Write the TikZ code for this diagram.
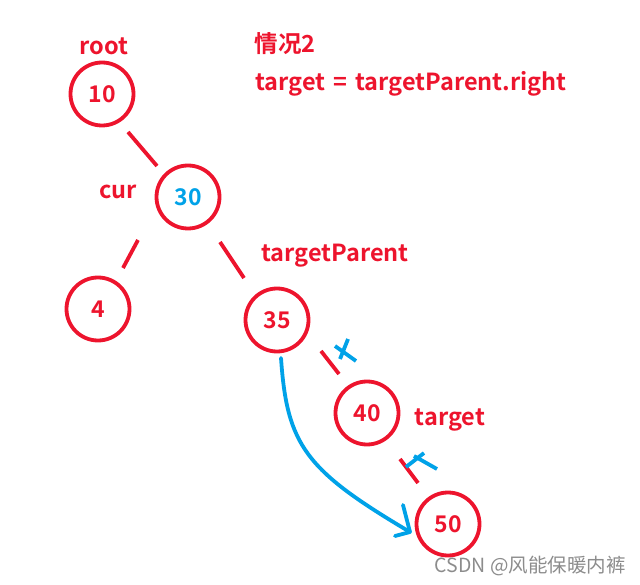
\documentclass[tikz,border=0pt]{standalone}
\usepackage{fontspec}
\setmainfont{Noto Sans CJK SC}[BoldFont={* Bold}]
\newfontfamily\wmfont{Noto Sans CJK SC}
\definecolor{pred}{RGB}{237,20,45}
\definecolor{pblue}{RGB}{0,162,232}
\begin{document}
\begin{tikzpicture}[x=1pt,y=-1pt,
  nd/.style={circle,draw=pred,line width=3.8pt,minimum size=63pt,inner sep=0pt,font=\bfseries\fontsize{23}{23}\selectfont,text=pred},
  lbl/.style={font=\bfseries\fontsize{23.5}{23.5}\selectfont,text=pred,inner sep=0pt},
  edge/.style={draw=pred,line width=3.8pt},
  bl/.style={draw=pblue,line width=3.8pt}]
\useasboundingbox (0,0) rectangle (640,585);
\node[nd] (n10) at (102,94) {10};
\node[nd,text=pblue] (n30) at (188,197) {30};
\node[nd] (n4) at (98,309) {4};
\node[nd] (n35) at (277,320) {35};
\node[nd] (n40) at (367,413) {40};
\node[nd] (n50) at (448,524) {50};
\node[lbl] (root) at (104,46) {root};
\node[lbl] (title) at (285,44) {情况2};
\node[lbl,anchor=west] (eq) at (255,84) {target\hspace{0.35em}=\hspace{0.35em}targetParent.right};
\node[lbl] (cur) at (118,192) {cur};
\node[lbl] (tp) at (335,256) {targetParent};
\node[lbl] (tg) at (450,420) {target};
\node[font=\wmfont\fontsize{19.5}{19.5}\selectfont,text=black!45,anchor=east,inner sep=0pt] (wm) at (626,566) {CSDN @风能保暖内裤};
% edges
\coordinate (e1a) at (128,132); \coordinate (e1b) at (157,166);
\coordinate (e2a) at (138,240); \coordinate (e2b) at (123,268);
\coordinate (e3a) at (220,242); \coordinate (e3b) at (244,278);
\coordinate (e4a) at (321,351); \coordinate (e4b) at (339,374);
\coordinate (e5a) at (400,459); \coordinate (e5b) at (418,483);
\draw[edge] (e1a) -- (e1b);
\draw[edge] (e2a) -- (e2b);
\draw[edge] (e3a) -- (e3b);
\draw[edge] (e4a) -- (e4b);
\draw[edge] (e5a) -- (e5b);
% blue crosses
\coordinate (c1a) at (335,346); \coordinate (c1b) at (356,361);
\coordinate (c1c) at (348,339); \coordinate (c1d) at (340,359);
\draw[bl] (c1a) -- (c1b);
\draw[bl] (c1c) -- (c1d);
\coordinate (c2a) at (406,467); \coordinate (c2b) at (424,453);
\coordinate (c2c) at (414,456); \coordinate (c2d) at (437,469);
\draw[bl] (c2a) -- (c2b);
\draw[bl] (c2c) -- (c2d);
% blue arrow
\coordinate (as) at (281,358);
\coordinate (ar) at (410,532);
\coordinate (ah1) at (403,505); \coordinate (ah2) at (395,536);
\draw[bl,line cap=round,line join=round] (as) .. controls (287,445) and (305,470) .. (ar);
\draw[bl,line cap=round,line join=round] (ah1) -- (ar) -- (ah2);
\end{tikzpicture}
\end{document}
